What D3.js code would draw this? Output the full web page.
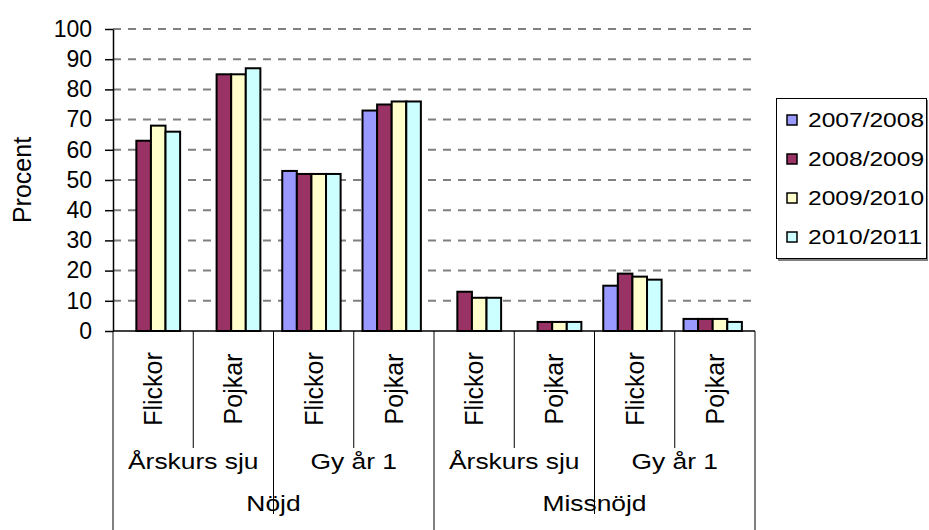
<!DOCTYPE html>
<html><head><meta charset="utf-8">
<script src="https://cdn.jsdelivr.net/npm/d3@7"></script>
<style>
body{margin:0;background:#fff}
svg text{font-family:"Liberation Sans",Arial,sans-serif;fill:#000}
</style>
</head><body>
<svg id="c" width="929" height="530"></svg>
<script>
// ---- data ----
const categories = ["Flickor","Pojkar","Flickor","Pojkar","Flickor","Pojkar","Flickor","Pojkar"];
const groups = ["Årskurs sju","Gy år 1","Årskurs sju","Gy år 1"];
const topGroups = ["Nöjd","Missnöjd"];
const seriesNames = ["2007/2008","2008/2009","2009/2010","2010/2011"];
const s2007 = [null,null,53,73,null,null,15,4];
const s2008 = [63,85,52,75,13,3,19,4];
const s2009 = [68,85,52,76,11,3,18,4];
const s2010 = [66,87,52,76,11,3,17,3];
const seriesValues = [s2007,s2008,s2009,s2010];
const colors = ["#9999FF","#993366","#FFFFCC","#CCFFFF"];
const yTicks = [0,10,20,30,40,50,60,70,80,90,100];
const yLabel = "Procent";

// ---- layout ----
const svg = d3.select("#c");
const X0 = 113, X1 = 755, Y0 = 331, Y1 = 29;
const x = d3.scaleBand().domain(d3.range(categories.length)).range([X0, X1]).padding(0);
const xs = d3.scaleBand().domain(d3.range(seriesNames.length)).range([0, x.bandwidth()])
  .paddingInner(0).paddingOuter(0.75).align(0.4);
const y = d3.scaleLinear().domain([0,100]).range([Y0, Y1]);

// gridlines
svg.append("g").selectAll("line").data(yTicks.filter(t=>t>0)).join("line")
  .attr("x1", X0).attr("x2", X1)
  .attr("y1", d=>y(d)).attr("y2", d=>y(d))
  .attr("stroke","#808080").attr("stroke-width",2).attr("stroke-dasharray","8,7");

// bars
const bars = [];
seriesValues.forEach((vals, si) => vals.forEach((v, ci) => { if (v != null) bars.push({si, ci, v}); }));
svg.append("g").selectAll("rect").data(bars).join("rect")
  .attr("x", d => x(d.ci) + xs(d.si))
  .attr("y", d => y(d.v))
  .attr("width", xs.bandwidth())
  .attr("height", d => y(0) - y(d.v))
  .attr("fill", d => colors[d.si])
  .attr("stroke", "#000").attr("stroke-width", 2);

// y axis
const yAxis = svg.append("g").attr("transform", `translate(${X0},0)`)
  .call(d3.axisLeft(y).tickValues(yTicks).tickSize(8).tickSizeOuter(0).tickPadding(13));
yAxis.select(".domain").attr("stroke","#000").attr("stroke-width",1.5);
yAxis.selectAll(".tick line").attr("stroke","#000").attr("stroke-width",1.5);
yAxis.selectAll(".tick text").attr("font-size",23).attr("font-family","Liberation Sans, Arial, sans-serif").attr("fill","#000");

// x axis line
svg.append("line").attr("x1",X0).attr("x2",X1).attr("y1",Y0).attr("y2",Y0)
  .attr("stroke","#000").attr("stroke-width",1.5);

// separators
const bounds = d3.range(categories.length + 1);
svg.append("g").selectAll("line").data(bounds).join("line")
  .attr("x1", i => i < categories.length ? x(i) : X1)
  .attr("x2", i => i < categories.length ? x(i) : X1)
  .attr("y1", Y0)
  .attr("y2", i => i % 4 === 0 ? 530 : (i % 2 === 0 ? 514 : 448))
  .attr("stroke","#000").attr("stroke-width",1);

// category labels (rotated)
svg.append("g").selectAll("text").data(categories).join("text")
  .attr("transform", (d,i) => `translate(${x(i) + x.bandwidth()/2},389) rotate(-90)`)
  .attr("text-anchor","middle").attr("dominant-baseline","central")
  .attr("font-size",25).text(d=>d);

// group labels
svg.append("g").selectAll("text").data(groups).join("text")
  .attr("transform", (d,i) => `translate(${x(i*2) + x.bandwidth()},469) scale(1.2,1)`)
  .attr("text-anchor","middle").attr("font-size",22).text(d=>d);

// top group labels
svg.append("g").selectAll("text").data(topGroups).join("text")
  .attr("transform", (d,i) => `translate(${x(i*4) + x.bandwidth()*2},511) scale(1.2,1)`)
  .attr("text-anchor","middle").attr("font-size",22).text(d=>d);

// y label
svg.append("text").attr("transform","translate(22,180) rotate(-90)")
  .attr("text-anchor","middle").attr("dominant-baseline","central")
  .attr("font-size",25).text(yLabel);

// legend
const lg = svg.append("g");
lg.append("rect").attr("x",778).attr("y",100).attr("width",150).attr("height",161).attr("fill","#808080");
lg.append("rect").attr("x",776.5).attr("y",98.5).attr("width",150).attr("height",160)
  .attr("fill","#fff").attr("stroke","#000").attr("stroke-width",1);
const ly = [120,159,198,237];
const items = lg.selectAll("g.item").data(seriesNames).join("g").attr("class","item")
  .attr("transform",(d,i)=>`translate(0,${ly[i]})`);
items.append("rect").attr("x",787).attr("y",-5).attr("width",10).attr("height",10)
  .attr("fill",(d,i)=>colors[i]).attr("stroke","#000").attr("stroke-width",1.5);
items.append("text").attr("transform","translate(808,0) scale(1.17,1)")
  .attr("dominant-baseline","central")
  .attr("font-size",21).text(d=>d);
</script>
</body></html>
